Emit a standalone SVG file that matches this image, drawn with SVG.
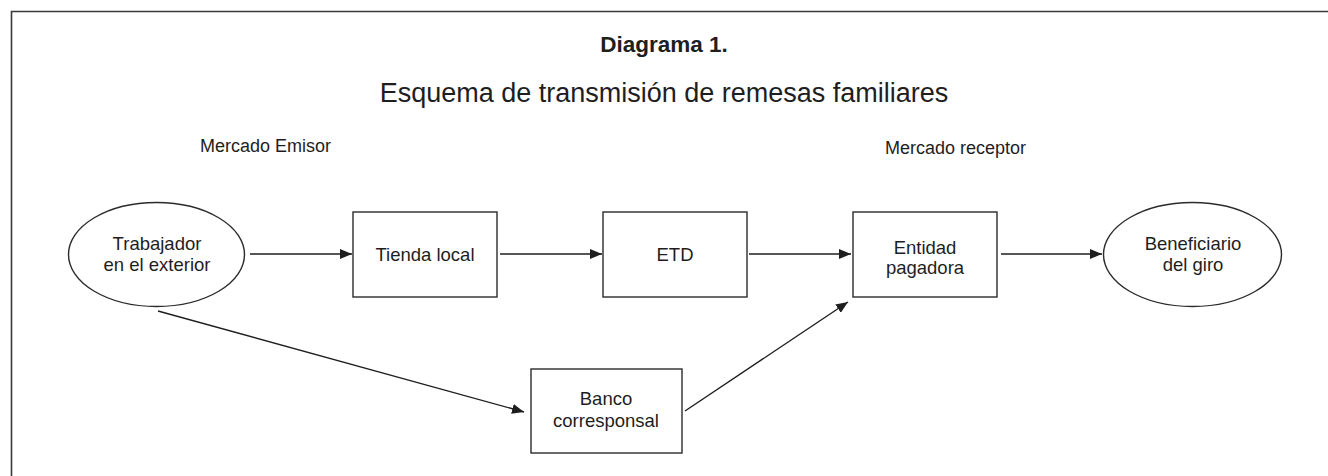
<svg xmlns="http://www.w3.org/2000/svg" width="1328" height="476" viewBox="0 0 1328 476">
<defs>
<style>
text{font-family:"Liberation Sans",Arial,sans-serif;fill:#1e1e1e;text-anchor:middle}
.n{font-size:18.5px}
.lab{font-size:18px;text-anchor:start}
.shape{fill:#fff;stroke:#2b2b2b;stroke-width:1.4}
.con line{stroke:#1e1e1e;stroke-width:1.4;marker-end:url(#ah)}
</style>
<marker id="ah" viewBox="0 0 12 10" refX="12" refY="5" markerWidth="12" markerHeight="10" markerUnits="userSpaceOnUse" orient="auto">
<path d="M0,0 L12,5 L0,10 Z" fill="#1e1e1e"/>
</marker>
</defs>
<rect width="1328" height="476" fill="#fff"/>
<path d="M11.5,476 V11.5 H1328" fill="none" stroke="#3a3a3a" stroke-width="1.6"/>
<text x="664" y="52" style="font-size:22.5px;font-weight:bold">Diagrama 1.</text>
<text x="664" y="102" style="font-size:27px">Esquema de transmisión de remesas familiares</text>
<text class="lab" x="200" y="152">Mercado Emisor</text>
<text class="lab" x="885" y="154">Mercado receptor</text>
<g id="trabajador">
<ellipse class="shape" cx="156.5" cy="254.5" rx="88" ry="52"/>
<text class="n" x="157" y="250">Trabajador</text>
<text class="n" x="157" y="271">en el exterior</text>
</g>
<g id="tienda">
<rect class="shape" x="353" y="212" width="144" height="85"/>
<text class="n" x="425" y="261">Tienda local</text>
</g>
<g id="etd">
<rect class="shape" x="603" y="212" width="144" height="85"/>
<text class="n" x="675" y="261">ETD</text>
</g>
<g id="entidad">
<rect class="shape" x="853" y="212" width="144" height="85"/>
<text class="n" x="925" y="254">Entidad</text>
<text class="n" x="925" y="274">pagadora</text>
</g>
<g id="beneficiario">
<ellipse class="shape" cx="1192.5" cy="254.5" rx="89" ry="52"/>
<text class="n" x="1193" y="250">Beneficiario</text>
<text class="n" x="1193" y="271">del giro</text>
</g>
<g id="banco">
<rect class="shape" x="531" y="369" width="151" height="84"/>
<text class="n" x="606" y="405">Banco</text>
<text class="n" x="606" y="427">corresponsal</text>
</g>
<g id="connectors" class="con">
<line x1="250" y1="254" x2="352" y2="254"/>
<line x1="500" y1="254" x2="602" y2="254"/>
<line x1="749" y1="254" x2="851" y2="254"/>
<line x1="1001" y1="254" x2="1102" y2="254"/>
<line x1="158" y1="311" x2="524" y2="412"/>
<line x1="685" y1="411" x2="848" y2="302"/>
</g>
</svg>
